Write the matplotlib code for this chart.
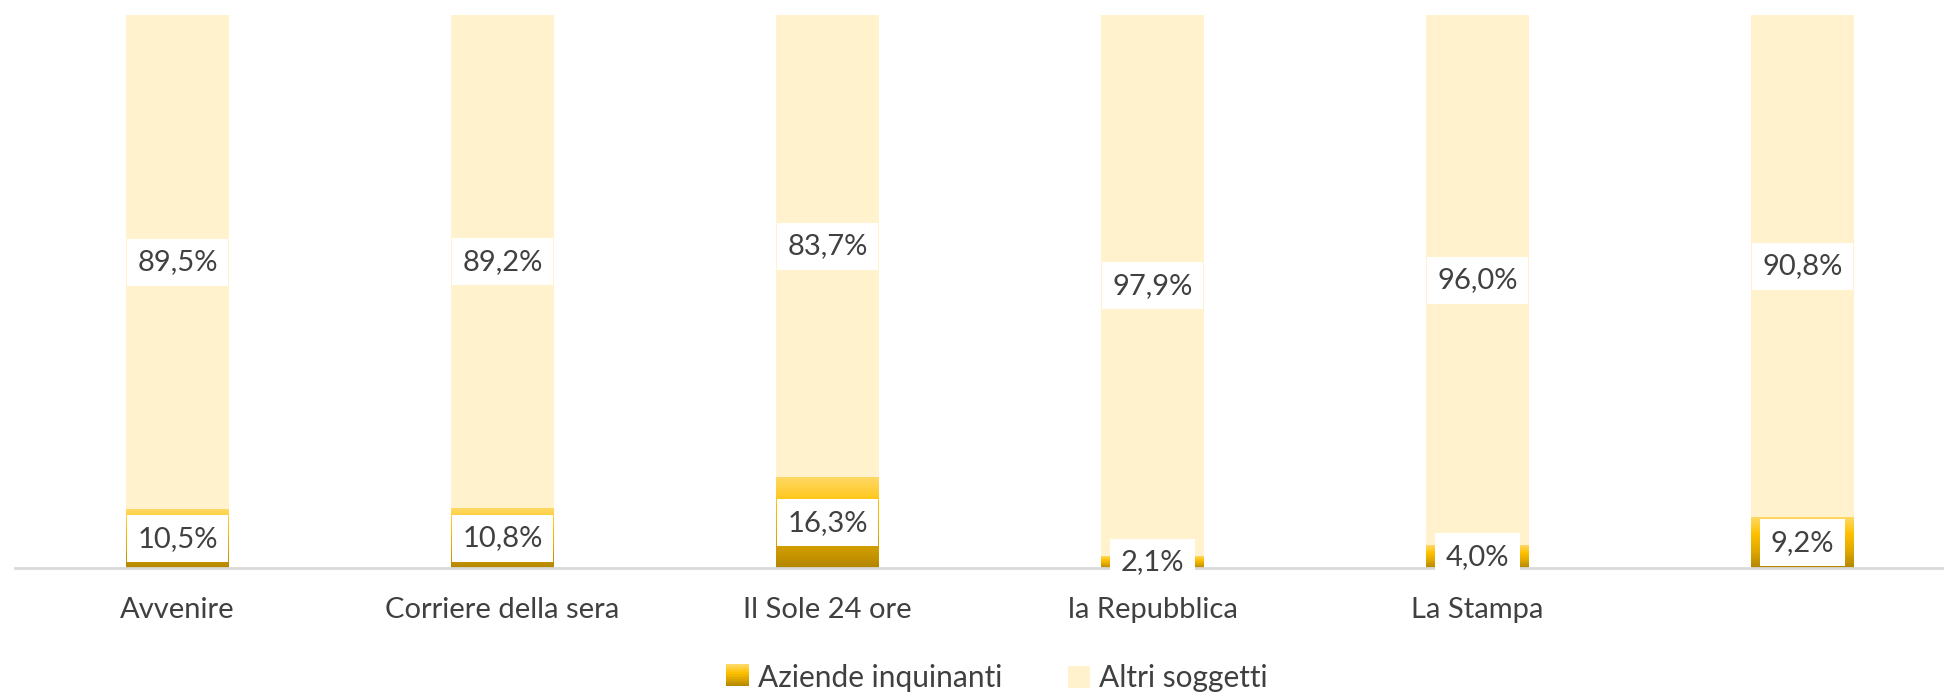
import numpy as np
import matplotlib.pyplot as plt
from matplotlib.colors import LinearSegmentedColormap
from matplotlib.legend_handler import HandlerBase
from matplotlib.patches import Patch, Rectangle

plt.rcParams['font.family'] = ['Lato', 'DejaVu Sans']

giornali = ["Avvenire", "Corriere della sera", "Il Sole 24 ore",
            "la Repubblica", "La Stampa", ""]
aziende = [10.5, 10.8, 16.3, 2.1, 4.0, 9.2]
altri = [89.5, 89.2, 83.7, 97.9, 96.0, 90.8]

TEXT = "#404040"
LIGHT = "#FFF2CC"
gold = LinearSegmentedColormap.from_list(
    "gold", ["#B38600", "#E0A800", "#FFC000", "#FFD966"])


def pct(v):
    return f"{v:.1f}%".replace(".", ",")


class GradientHandler(HandlerBase):
    def create_artists(self, legend, orig, xd, yd, w, h, fs, trans):
        n = 12
        out = []
        for i in range(n):
            r = Rectangle((xd, yd + h * i / n), w, h / n + 0.3,
                          facecolor=gold(i / (n - 1)), edgecolor="none",
                          transform=trans)
            out.append(r)
        return out


fig = plt.figure(figsize=(19.44, 6.92), dpi=100)
ax = fig.add_axes([15 / 1944, 124 / 692, 1950 / 1944, 553 / 692])

x = np.arange(len(giornali))
w = 0.314
a = np.array(aziende) / 100
b = np.array(altri) / 100

ax.bar(x, b, w, bottom=a, color=LIGHT, zorder=2)
grad = np.linspace(0, 1, 256).reshape(-1, 1)
for xi, ai in zip(x, a):
    ax.imshow(grad, cmap=gold, origin="lower", aspect="auto",
              extent=[xi - w / 2, xi + w / 2, 0, ai], zorder=2,
              interpolation="bilinear")

box = dict(boxstyle="square,pad=0.36", facecolor="white", edgecolor="none")
for xi, ai, bi in zip(x, a, b):
    ax.text(xi, ai / 2, pct(ai * 100), ha="center", va="center",
            fontsize=21, color=TEXT, bbox=box, zorder=4)
    ax.text(xi, ai + bi / 2, pct(bi * 100), ha="center", va="center",
            fontsize=21, color=TEXT, bbox=box, zorder=4)

ax.set_xlim(-0.5, len(giornali) - 0.5)
ax.set_ylim(0, 1)
ax.set_xticks(x)
ax.set_xticklabels(giornali, fontsize=21, color=TEXT)
ax.tick_params(axis="x", length=0, pad=21)
ax.set_yticks([])
for s in ["top", "left", "right"]:
    ax.spines[s].set_visible(False)
ax.spines["bottom"].set_color("#D9D9D9")
ax.spines["bottom"].set_linewidth(2)
ax.spines["bottom"].set_zorder(3)

handles = [Patch(label="Aziende inquinanti"),
           Patch(facecolor=LIGHT, label="Altri soggetti")]
fig.legend(handles=handles, loc="center", ncol=2, frameon=False,
           bbox_to_anchor=(997 / 1944, 14 / 692), fontsize=21.5,
           labelcolor=TEXT, handlelength=0.75, handleheight=0.75,
           handletextpad=0.3, columnspacing=2.2,
           handler_map={handles[0]: GradientHandler()})

fig.savefig("out.png", dpi=100)
